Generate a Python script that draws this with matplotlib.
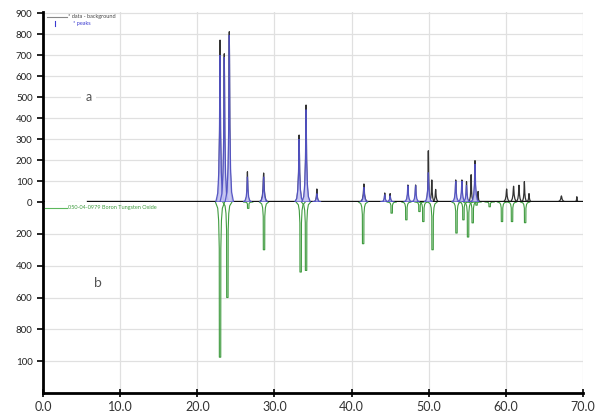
"""
xrd pattern: measured data (a) vs reference card (b)
"""

import numpy as np
import matplotlib
matplotlib.use('Agg')
import matplotlib.pyplot as plt

plt.rcParams['font.family'] = ['Lato', 'DejaVu Sans']

# measured data - background, peak tips (2theta, counts)
data_pos = [22.95, 23.5, 24.15, 26.5, 28.6, 33.2, 34.1, 35.5, 41.6, 44.3, 45.0,
            47.3, 48.3, 49.95, 50.4, 50.9, 53.5, 54.3, 54.9, 55.5, 56.0, 56.4,
            60.1, 61.0, 61.7, 62.4, 63.0, 67.2, 69.2]
data_h = [771, 706, 811, 144, 138, 319, 462, 62, 86, 43, 40,
          81, 81, 244, 105, 60, 105, 105, 97, 130, 197, 50,
          62, 75, 80, 97, 40, 29, 25]
data_w = [0.5, 0.5, 0.5, 0.4, 0.7, 0.6, 0.55, 0.5, 0.7, 0.35, 0.35,
          0.35, 0.35, 0.4, 0.5, 0.6, 0.35, 0.35, 0.35, 0.45, 0.4, 0.35,
          0.7, 0.7, 0.6, 0.5, 0.5, 0.9, 0.35]
data_start = 5.8
data_end = 70.0

# fitted peaks (blue)
peak_pos = [22.95, 23.5, 24.15, 26.5, 28.6, 33.2, 34.1, 35.5, 41.6, 44.3, 45.0,
            47.3, 48.3, 49.95, 53.5, 54.3, 54.9, 56.0]
peak_h = [700, 690, 795, 120, 120, 300, 440, 40, 70, 35, 30,
          78, 78, 140, 100, 100, 80, 180]

# reference card 050-04-0979 (green, drawn downward)
ref_pos = [22.95, 23.9, 26.6, 28.65, 33.4, 34.1, 41.5, 45.2, 47.1, 48.8, 49.3,
           50.5, 53.6, 54.5, 55.1, 55.7, 56.2, 57.9, 59.5, 60.8, 62.5]
ref_h = [975, 600, 40, 300, 440, 430, 262, 70, 112, 60, 123,
         300, 195, 112, 220, 131, 20, 30, 123, 123, 130]

top_ticks = list(range(0, 1000, 100))
bot_ticks = [200, 400, 600, 800, 1000]
bot_labels = ['200', '400', '600', '800', '100']
x_ticks = list(range(0, 80, 10))

# peak outline template (fractions of width / height)
shape_x = np.array([-1, -0.55, -0.3, -0.14, -0.05, 0, 0.05, 0.14, 0.3, 0.55, 1])
shape_y = np.array([0, 0.06, 0.2, 0.45, 0.85, 1, 0.85, 0.45, 0.2, 0.06, 0])
ref_x = np.array([-1, -0.5, -0.3, -0.17, -0.15, 0.15, 0.17, 0.3, 0.5, 1])
ref_y = np.array([0, 0.04, 0.12, 0.3, 1, 1, 0.3, 0.12, 0.04, 0])

grid_c = '#e0e0e0'
fig = plt.figure(figsize=(5.95, 4.16), dpi=100)
left, width = 43 / 595, 540 / 595
ax_top = fig.add_axes([left, 1 - 202 / 416, width, 190 / 416])
ax_bot = fig.add_axes([left, 1 - 393 / 416, width, 191 / 416])

for ax in (ax_top, ax_bot):
    ax.set_xlim(0, 70)
    ax.set_xticks(x_ticks)
    ax.grid(True, color=grid_c, lw=0.9)
    ax.set_axisbelow(True)
    for s in ('top', 'right'):
        ax.spines[s].set_visible(False)
    ax.spines['left'].set_linewidth(2)
    ax.tick_params(axis='y', direction='out', length=4, width=1.2, pad=3.5,
                   labelsize=7, labelcolor='#222222')

# upper: data and fitted peaks
ax_top.set_ylim(0, 905)
ax_top.set_yticks(top_ticks)
ax_top.spines['bottom'].set_visible(False)
ax_top.tick_params(axis='x', bottom=False, labelbottom=False)

ax_top.plot([data_start, data_end], [0, 0], color='#111111', lw=1.7, zorder=4)
for p, h, w in zip(data_pos, data_h, data_w):
    ax_top.plot(p + shape_x * w * 0.8, shape_y * h, color='#333333', lw=0.9, zorder=3)
for p, h in zip(peak_pos, peak_h):
    w = 0.55
    ax_top.fill(p + shape_x * w, shape_y * h, facecolor='#c4c4f2', edgecolor='#4f4fc6',
                lw=0.9, alpha=0.9, zorder=5)

# legend (hand placed, tiny like the original)
ax_top.plot([0.008, 0.045], [0.975, 0.975], transform=ax_top.transAxes, color='#888888', lw=0.8)
ax_top.text(0.047, 0.975, '* data - background', transform=ax_top.transAxes, fontsize=4,
            color='#444444', va='center')
ax_top.plot([0.022, 0.022], [0.925, 0.955], transform=ax_top.transAxes, color='#3a3ad0', lw=0.8)
ax_top.text(0.055, 0.94, '* peaks', transform=ax_top.transAxes, fontsize=4,
            color='#3a3ad0', va='center')
ax_top.text(5.9, 500, 'a', fontsize=9, color='#555555', ha='center', va='center',
            bbox=dict(facecolor='white', edgecolor='none', pad=3))

# lower: reference card pattern
ax_bot.set_ylim(1200, 0)
ax_bot.set_yticks(bot_ticks)
ax_bot.set_yticklabels(bot_labels)
ax_bot.spines['bottom'].set_linewidth(2)
ax_bot.set_xticklabels(['%.1f' % t for t in x_ticks])
ax_bot.tick_params(axis='x', direction='inout', length=6, width=1.2, pad=3,
                   labelsize=9, labelcolor='#333333')

for p, h in zip(ref_pos, ref_h):
    ax_bot.plot(p + ref_x * 0.6, ref_y * h, color='#3f9b3f', lw=0.8, zorder=3)

ax_bot.plot([0.004, 0.045], [0.969, 0.969], transform=ax_bot.transAxes, color='#5cb85c', lw=0.8)
ax_bot.text(0.046, 0.969, '050-04-0979 Boron Tungsten Oxide', transform=ax_bot.transAxes,
            fontsize=4, color='#3f9b3f', va='center')
ax_bot.text(7.1, 510, 'b', fontsize=10, color='#555555', ha='center', va='center')

fig.savefig('out.png', dpi=100)
